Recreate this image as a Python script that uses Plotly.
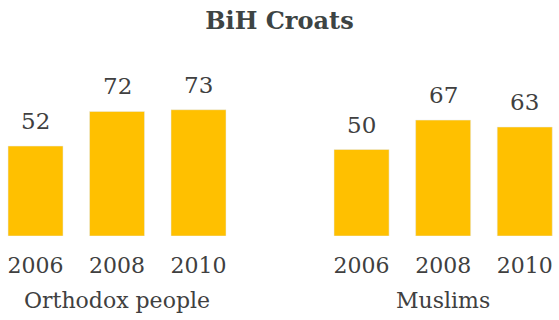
import plotly.graph_objects as go
from plotly.subplots import make_subplots

# Survey shares by year for each group
years = ["2006", "2008", "2010"]
groups = ["Orthodox people", "Muslims"]
orthodox_values = [52, 72, 73]
muslim_values = [50, 67, 63]
title_text = "BiH Croats"

bar_color = "#FFC000"
text_color = "#404040"
font_family = "DejaVu Serif"

fig = make_subplots(rows=1, cols=2, horizontal_spacing=0.0)

series = [orthodox_values, muslim_values]
for i, vals in enumerate(series, start=1):
    fig.add_trace(
        go.Bar(x=years, y=vals, marker_color=bar_color, width=0.675,
               hoverinfo="skip", showlegend=False),
        row=1, col=i,
    )
    # value labels sitting above each bar (x given as category index)
    suffix = "" if i == 1 else str(i)
    for idx, v in enumerate(vals):
        fig.add_annotation(
            x=idx, y=v, text=str(v), showarrow=False, xanchor="center",
            yanchor="middle", yshift=25,
            xref=f"x{suffix}", yref=f"y{suffix}",
            font=dict(family=font_family, size=23, color=text_color),
        )

W = 559
d1 = (0, 239.25 / W)
d2 = (320.75 / W, 1.0)
fig.update_layout(
    width=559, height=320,
    margin=dict(l=0, r=0, t=63, b=84),
    paper_bgcolor="white", plot_bgcolor="white",
    title=dict(text=f"<b>{title_text}</b>", x=0.5, xanchor="center",
               y=1 - 21 / 320, yanchor="middle",
               font=dict(family=font_family, size=24, color="#3d4444")),
    xaxis=dict(domain=d1, range=[-0.436, 2.5]),
    xaxis2=dict(domain=d2, range=[-0.5, 2.42]),
    font=dict(family=font_family, color=text_color),
)
fig.update_xaxes(type="category", showgrid=False, showline=False, zeroline=False,
                 ticks="", ticklabelstandoff=14,
                 tickfont=dict(family=font_family, size=22, color=text_color))
fig.update_yaxes(range=[0, 100], showticklabels=False, showgrid=False,
                 zeroline=False, showline=False, ticks="")

# group labels under each block of years
centers = [117 / W, 443 / W]
for name, cx in zip(groups, centers):
    fig.add_annotation(
        x=cx, y=-64 / 173, xref="paper", yref="paper", text=name,
        showarrow=False, xanchor="center", yanchor="middle",
        font=dict(family=font_family, size=22, color=text_color),
    )

fig.write_html("out.html")
